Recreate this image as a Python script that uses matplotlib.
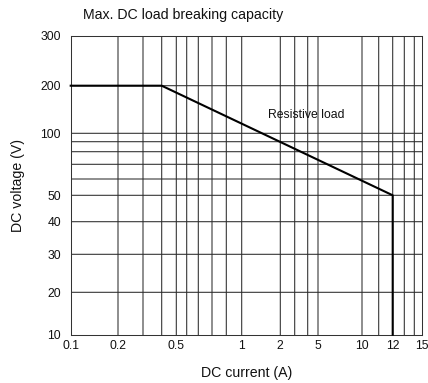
import numpy as np
import matplotlib
matplotlib.use("Agg")
import matplotlib.pyplot as plt
from matplotlib.ticker import FixedLocator, FixedFormatter, NullFormatter

plt.rcParams['font.family'] = ['Liberation Sans', 'DejaVu Sans']

# ---- data ----
current = [0.1, 0.4, 12, 12]
voltage = [200, 200, 50, 10]

x_tick_vals = [0.1, 0.2, 0.5, 1, 2, 5, 10, 12, 15]
x_tick_labels = ['0.1', '0.2', '0.5', '1', '2', '5', '10', '12', '15']
y_tick_vals = [10, 20, 30, 40, 50, 100, 200, 300]
y_tick_labels = ['10', '20', '30', '40', '50', '100', '200', '300']
x_grid = [0.2, 0.3, 0.4, 0.5, 0.6, 0.7, 0.8, 0.9, 1, 2, 3, 4, 5, 10, 11, 12, 13, 14]
y_grid = [20, 30, 40, 50, 60, 70, 80, 90, 100, 200]

# ---- the reference's non-uniform axis scales (value -> relative position) ----
xk_val = [0.1, 0.2, 0.3, 0.4, 0.5, 0.6, 0.7, 0.8, 0.9, 1, 2, 3, 4, 5, 10, 11, 12, 13, 14, 15]
xk_pos = [70.7, 118, 143, 161.7, 176.3, 186.7, 198.3, 212, 226.3, 241.7,
          280.3, 294.7, 307.7, 318, 362, 378.7, 392.7, 404.3, 414.3, 422.3]
yk_val = [10, 20, 30, 40, 50, 60, 70, 80, 90, 100, 200, 300]
yk_pos = [-334.7, -292.3, -254.3, -221.7, -195.3, -179, -164.3, -151.7, -141.7, -133.3, -85.7, -35.7]


def make_scale(vals, pos):
    lv = np.log10(np.asarray(vals, float))
    ps = np.asarray(pos, float)

    def interp_ext(x, xp, fp):
        x = np.asarray(x, float)
        y = np.interp(x, xp, fp)
        lo_s = (fp[1] - fp[0]) / (xp[1] - xp[0])
        hi_s = (fp[-1] - fp[-2]) / (xp[-1] - xp[-2])
        y = np.where(x < xp[0], fp[0] + (x - xp[0]) * lo_s, y)
        y = np.where(x > xp[-1], fp[-1] + (x - xp[-1]) * hi_s, y)
        return y

    def fwd(v):
        v = np.asarray(v, float)
        v = np.where(v > 0, v, 1e-12)
        return interp_ext(np.log10(v), lv, ps)

    def inv(p):
        return 10 ** interp_ext(p, ps, lv)

    return fwd, inv


W, H = 428, 383
fig = plt.figure(figsize=(W / 100, H / 100), dpi=100)
left, right, top, bottom = 70.7, 422.3, 35.7, 334.7
ax = fig.add_axes([left / W, 1 - bottom / H, (right - left) / W, (bottom - top) / H])

ax.set_xscale('function', functions=make_scale(xk_val, xk_pos))
ax.set_yscale('function', functions=make_scale(yk_val, yk_pos))
ax.set_xlim(0.1, 15)
ax.set_ylim(10, 300)

ax.xaxis.set_major_locator(FixedLocator(x_tick_vals))
ax.xaxis.set_major_formatter(FixedFormatter(x_tick_labels))
ax.yaxis.set_major_locator(FixedLocator(y_tick_vals))
ax.yaxis.set_major_formatter(FixedFormatter(y_tick_labels))
ax.xaxis.set_minor_locator(FixedLocator(x_grid))
ax.yaxis.set_minor_locator(FixedLocator(y_grid))
ax.xaxis.set_minor_formatter(NullFormatter())
ax.yaxis.set_minor_formatter(NullFormatter())
ax.xaxis.remove_overlapping_locs = False
ax.yaxis.remove_overlapping_locs = False

ax.grid(which='minor', color='#2a2a2a', linewidth=0.75, snap=False)
ax.grid(which='major', visible=False)
ax.tick_params(which='both', length=0, labelsize=8.7, colors='#111111')
ax.tick_params(axis='x', pad=4)
ax.tick_params(axis='y', pad=7)

for s in ax.spines.values():
    s.set_color('#333333')
    s.set_linewidth(0.75)

ax.plot(current, voltage, color='black', linewidth=1.5, clip_on=False, zorder=3)

ax.text(3.9, 130, 'Resistive load', ha='center', va='center', fontsize=8.8,
        color='#111111', zorder=4)

ax.set_xlabel('DC current (A)', fontsize=10.2, labelpad=10, color='#111111')
ax.set_ylabel('DC voltage (V)', fontsize=10.2, labelpad=11, color='#111111')
fig.text(83 / W, 1 - 15.5 / H, 'Max. DC load breaking capacity', ha='left', va='center',
         fontsize=10.2, color='#111111')

fig.savefig('out.png', dpi=100)
